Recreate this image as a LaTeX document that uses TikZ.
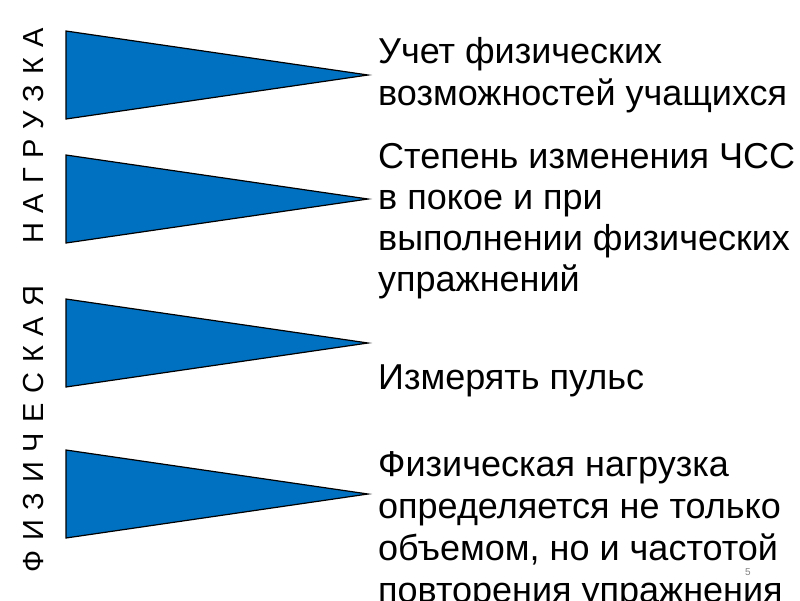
\documentclass[tikz,border=0pt]{standalone}
\usepackage{fontspec}
\setmainfont{Liberation Sans}
\newfontfamily\spacedletters[LetterSpace=34]{Liberation Sans}

\begin{document}
\begin{tikzpicture}[
    x=1pt, y=-1pt,
    every node/.style={inner sep=0pt},
    flag/.style={fill={rgb,255:red,0;green,112;blue,192}, draw=black, line width=1.2pt, line join=miter},
    heading/.style={rotate=90, anchor=base west, font=\spacedletters\fontsize{29}{29}\selectfont},
    itemtext/.style={anchor=base west, align=left, font=\fontsize{36}{42}\selectfont},
]

% === Canvas ===
\useasboundingbox (0,0) rectangle (800,600);
\clip (0,0) rectangle (800,600);

% === Dimensions ===
\def\flagL{66}     % left edge of the flags
\def\flagR{368}    % tip of the flags
\def\flagH{88}     % flag height
\def\textX{378}    % left edge of the texts

% === Flags (triangles pointing right) ===
\foreach \ytop in {31, 155, 299, 450} {
    \draw[flag] (\flagL,\ytop) -- (\flagL,{\ytop+\flagH})
        -- (\flagR,{\ytop+0.5*\flagH}) -- cycle;
}

% === Vertical heading (two words) ===
\node[heading] (headA) at (43,573) {ФИЗИЧЕСКАЯ};
\node[heading] (headB) at (43,244) {НАГРУЗКА};

% === Texts beside the flags (anchored at the last line) ===
\node[itemtext] (item1) at (\textX,105)
    {Учет физических\\возможностей учащихся};
\node[itemtext, font=\fontsize{36}{41}\selectfont] (item2) at (\textX,291)
    {Степень изменения ЧСС\\в покое и при\\выполнении физических\\упражнений};
\node[itemtext] (item3) at (\textX,389)
    {Измерять пульс};
\node[itemtext] (item4) at (\textX,602)
    {Физическая нагрузка\\определяется не только\\объемом, но и частотой\\повторения упражнения};

% === Slide number ===
\node[font=\fontsize{10}{10}\selectfont, text=gray] (pagenum) at (748,572) {5};

\end{tikzpicture}
\end{document}
